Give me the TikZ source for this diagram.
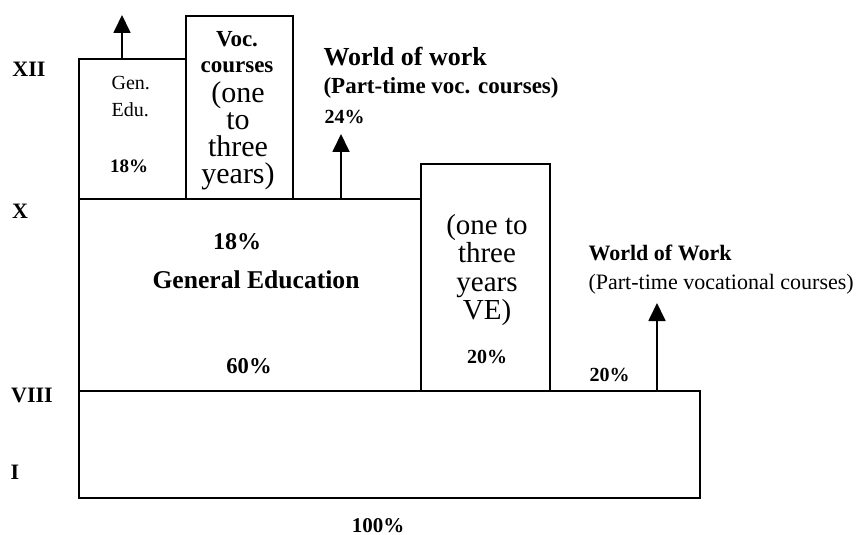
\documentclass[tikz,border=0pt]{standalone}
\usepackage{fontspec}
\setmainfont{Liberation Serif}
\usetikzlibrary{arrows.meta}

\begin{document}
\begin{tikzpicture}[x=0.5pt,y=-0.5pt,line width=0.9pt,
        up/.style={-{Triangle[width=8.5pt,length=9pt]}},
        lvl/.style={font=\fontsize{11}{13}\selectfont\bfseries},
        pct/.style={font=\fontsize{10}{12}\selectfont\bfseries}]
        \useasboundingbox (0,0) rectangle (862,535);
        % blocks
        \draw (79,391) rectangle (700,498);
        \draw (421,199) -- (79,199) -- (79,391);
        \draw (79,59) rectangle (186,199);
        \draw (186,16) rectangle (293,199);
        \draw (421,164) rectangle (550,391);
        % arrow ends
        \coordinate (genTop) at (122,59);
        \coordinate (genOut) at (122,15);
        \coordinate (midBase) at (341,199);
        \coordinate (midOut) at (341,134);
        \coordinate (rightBase) at (657,391);
        \coordinate (rightOut) at (657,303);
        \draw [up] (genTop)--(genOut);
        \draw [up] (midBase)--(midOut);
        \draw [up] (rightBase)--(rightOut);
        % class levels
        \node[lvl] (xii) at (29,69) {XII};
        \node[lvl] (x) at (20,211) {X};
        \node[lvl] (viii) at (32,395) {VIII};
        \node[lvl] (one) at (15,472) {I};
        % upper boxes
        \node[align=left,anchor=west,font=\fontsize{10}{13.5}\selectfont] (genedu) at (104,97) {Gen.\\Edu.};
        \node[pct,font=\fontsize{9.5}{12}\selectfont\bfseries] (genpct) at (129,166) {18\%};
        \node[align=center,font=\fontsize{11.5}{13}\selectfont\bfseries] (voc) at (237,52) {Voc.\\courses};
        \node[align=center,font=\fontsize{15}{13.6}\selectfont] (vocyrs) at (238,136) {(one\\to\\three\\years)};
        \node[anchor=west,font=\fontsize{13}{15}\selectfont\bfseries] (wow) at (316,57) {World of work};
        \node[anchor=west,font=\fontsize{11.5}{14}\selectfont\bfseries] (wowpt) at (316,88) {(Part-time voc. courses)};
        \node[pct,anchor=west] (wowpct) at (317,117) {24\%};
        % general education
        \node[font=\fontsize{12}{14}\selectfont\bfseries] (gepct) at (237,242) {18\%};
        \node[font=\fontsize{12.8}{15}\selectfont\bfseries] (ge) at (256,280) {General Education};
        \node[font=\fontsize{11.3}{14}\selectfont\bfseries] (gepct2) at (249,366) {60\%};
        % vocational education
        \node[align=center,font=\fontsize{14.5}{14.3}\selectfont] (ve) at (487,270) {(one to\\three\\years\\VE)};
        \node[pct] (vepct) at (487,357) {20\%};
        % world of work, right
        \node[anchor=west,font=\fontsize{11}{13}\selectfont\bfseries] (wow2) at (581,253) {World of Work};
        \node[anchor=west,font=\fontsize{11}{13}\selectfont] (wow2pt) at (581,284) {(Part-time vocational courses)};
        \node[pct,anchor=west] (wow2pct) at (582,375) {20\%};
        % total
        \node[pct,font=\fontsize{10.5}{12}\selectfont\bfseries] (total) at (378,526) {100\%};
\end{tikzpicture}
\end{document}
